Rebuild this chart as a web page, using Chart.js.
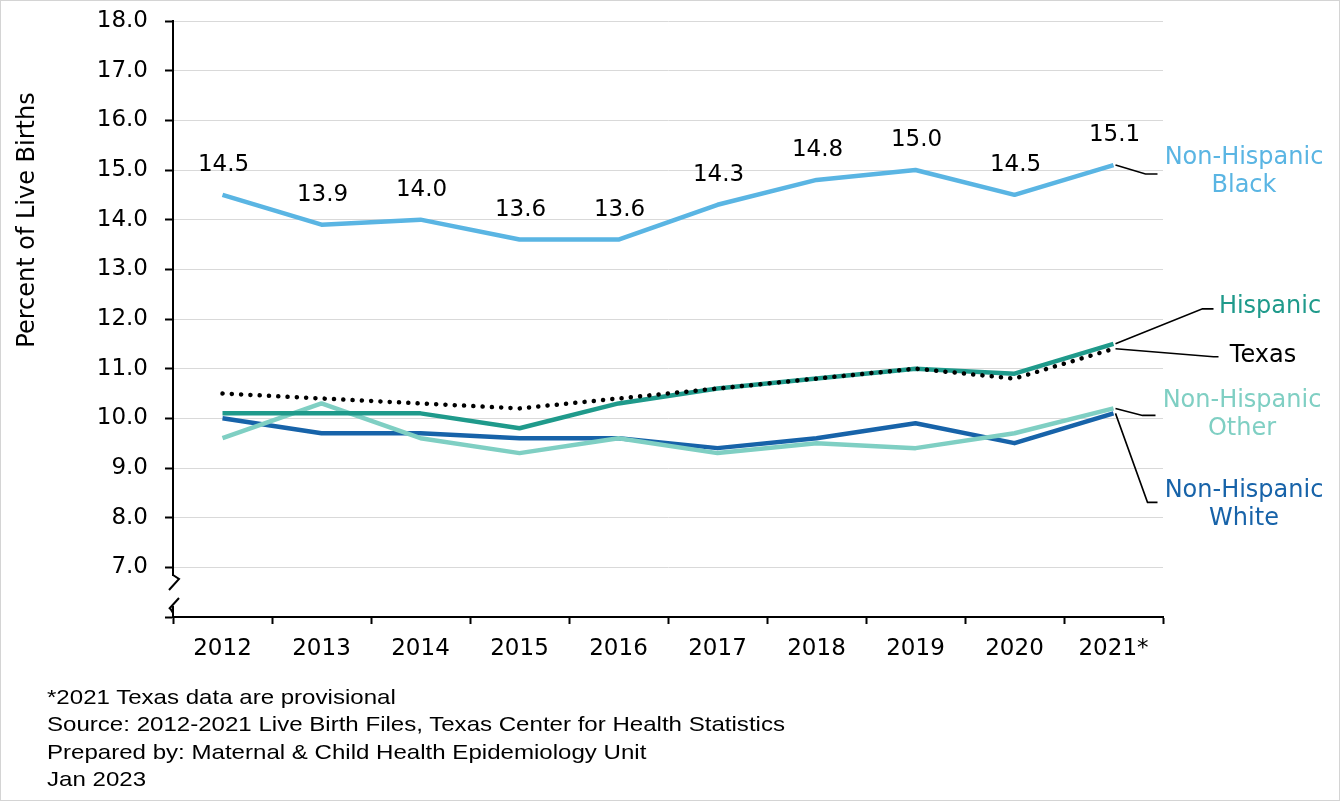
<!DOCTYPE html>
<html>
<head>
<meta charset="utf-8">
<title>Percent of Live Births by Race/Ethnicity, Texas 2012-2021</title>
<script src="https://cdn.jsdelivr.net/npm/chart.js@4/dist/chart.umd.min.js"></script>
<style>
    body { margin: 0; background: #fff; }
    #wrap { position: relative; width: 1340px; height: 801px; }
    #notes {
        position: absolute; left: 47px; top: 683px;
        font-family: "Liberation Sans", Arial, sans-serif; font-size: 21px;
        line-height: 27.3px; color: #000; white-space: nowrap;
        transform-origin: left top;
    }
</style>
</head>
<body>
<div id="wrap">
    <canvas id="myChart" width="1340" height="801"></canvas>
    <div id="notes">
        <div>*2021 Texas data are provisional</div>
        <div id="srcLine">Source: 2012-2021 Live Birth Files, Texas Center for Health Statistics</div>
        <div>Prepared by: Maternal &amp; Child Health Epidemiology Unit</div>
        <div>Jan 2023</div>
    </div>
</div>
<script>
const years = ["2012", "2013", "2014", "2015", "2016", "2017", "2018", "2019", "2020", "2021*"];
const texas = [10.5, 10.4, 10.3, 10.2, 10.4, 10.6, 10.8, 11.0, 10.8, 11.4];
const hispanic = [10.1, 10.1, 10.1, 9.8, 10.3, 10.6, 10.8, 11.0, 10.9, 11.5];
const nhOther = [9.6, 10.3, 9.6, 9.3, 9.6, 9.3, 9.5, 9.4, 9.7, 10.2];
const nhWhite = [10.0, 9.7, 9.7, 9.6, 9.6, 9.4, 9.6, 9.9, 9.5, 10.1];
const nhBlack = [14.5, 13.9, 14.0, 13.6, 13.6, 14.3, 14.8, 15.0, 14.5, 15.1];
const yTicks = [6, 7, 8, 9, 10, 11, 12, 13, 14, 15, 16, 17, 18];

const fam = '"DejaVu Sans", Verdana, sans-serif';
const numFont = "23px " + fam;
const nameFont = "24px " + fam;

// squeeze the footnotes like the original narrow font
const notes = document.getElementById("notes");
const srcW = document.getElementById("srcLine").getBoundingClientRect().width;
notes.style.transform = "scaleX(" + (738 / srcW) + ")";

// labels on the right, tied to the 2021 point of each series by a leader line
const seriesLabels = [
    { ds: 4, lines: ["Non-Hispanic", "Black"], color: "#5ab5e3", bend: [32, 9], end: 44, tx: 1244, ty: 158 },
    { ds: 1, lines: ["Hispanic"], color: "#1f9a8b", bend: [89, -35], end: 100, tx: 1270, ty: 307 },
    { ds: 0, lines: ["Texas"], color: "#000", bend: [100, 8], end: 105, tx: 1263, ty: 356 },
    { ds: 2, lines: ["Non-Hispanic", "Other"], color: "#7fcfc3", bend: [29, 7], end: 42, tx: 1242, ty: 401 },
    { ds: 3, lines: ["Non-Hispanic", "White"], color: "#1763a9", bend: [34, 89], end: 44, tx: 1244, ty: 491 },
];

const extras = {
    id: "extras",
    afterDraw(chart) {
        const ctx = chart.ctx;
        const x = chart.scales.x;
        const y = chart.scales.y;
        const area = chart.chartArea;
        ctx.save();

        // frame around the picture
        ctx.strokeStyle = "#d4d4d4";
        ctx.lineWidth = 1;
        ctx.strokeRect(0.5, 0.5, chart.width - 1, chart.height - 1);

        // axis break near the bottom of the y axis
        const ax = area.left;
        ctx.fillStyle = "#fff";
        ctx.fillRect(ax - 3, area.bottom - 41, 6, 30);
        ctx.strokeStyle = "#000";
        ctx.lineWidth = 2;
        ctx.beginPath();
        ctx.moveTo(ax, area.bottom - 42);
        ctx.lineTo(ax + 6, area.bottom - 38);
        ctx.lineTo(ax - 4, area.bottom - 27);
        ctx.moveTo(ax - 4, area.bottom - 8);
        ctx.lineTo(ax + 6, area.bottom - 19);
        ctx.moveTo(ax - 3, area.bottom - 9);
        ctx.lineTo(ax, area.bottom - 4);
        ctx.stroke();

        // y axis title
        ctx.fillStyle = "#000";
        ctx.font = "24px " + fam;
        ctx.textAlign = "center";
        ctx.textBaseline = "middle";
        ctx.translate(28, 220);
        ctx.rotate(-Math.PI / 2);
        ctx.fillText("Percent of Live Births", 0, 0);
        ctx.setTransform(1, 0, 0, 1, 0, 0);

        // values above the Non-Hispanic Black line
        ctx.font = numFont;
        nhBlack.forEach((v, i) => {
            ctx.fillText(v.toFixed(1), x.getPixelForValue(i) + 1, y.getPixelForValue(v) - 30);
        });

        // leader lines and series names
        const last = years.length - 1;
        seriesLabels.forEach((s) => {
            const vals = chart.data.datasets[s.ds].data;
            const px = x.getPixelForValue(last);
            const py = y.getPixelForValue(vals[last]);
            ctx.strokeStyle = "#000";
            ctx.lineWidth = 1.6;
            ctx.beginPath();
            ctx.moveTo(px + 2, py);
            ctx.lineTo(px + s.bend[0], py + s.bend[1]);
            ctx.lineTo(px + s.end, py + s.bend[1]);
            ctx.stroke();
            ctx.fillStyle = s.color;
            ctx.font = nameFont;
            s.lines.forEach((t, k) => {
                ctx.fillText(t, s.tx, s.ty + k * 28);
            });
        });
        ctx.restore();
    },
};

const lineStyle = (color) => ({
    borderColor: color,
    borderWidth: 4.5,
    pointRadius: 0,
    tension: 0,
    borderJoinStyle: "round",
});

const canvas = document.getElementById("myChart");
new Chart(canvas, {
    type: "line",
    data: {
        labels: years,
        datasets: [
            {
                label: "Texas",
                data: texas,
                borderColor: "#000",
                borderWidth: 4.5,
                borderDash: [0.1, 9.2],
                borderCapStyle: "round",
                pointRadius: 0,
            },
            { label: "Hispanic", data: hispanic, ...lineStyle("#1f9a8b") },
            { label: "Non-Hispanic Other", data: nhOther, ...lineStyle("#7fcfc3") },
            { label: "Non-Hispanic White", data: nhWhite, ...lineStyle("#1763a9") },
            { label: "Non-Hispanic Black", data: nhBlack, ...lineStyle("#5ab5e3") },
        ],
    },
    options: {
        responsive: false,
        animation: false,
        layout: { autoPadding: false, padding: { top: 21, right: 177, bottom: 124, left: 0 } },
        plugins: {
            legend: { display: false },
            tooltip: { enabled: false },
        },
        scales: {
            x: {
                offset: true,
                grid: {
                    offset: true,
                    drawOnChartArea: false,
                    tickLength: 7,
                    tickColor: "#000",
                    tickWidth: 2,
                },
                border: { color: "#000", width: 2 },
                ticks: {
                    color: "#000",
                    font: { family: fam, size: 23 },
                    padding: 11,
                    maxRotation: 0,
                },
                afterFit: (scale) => {
                    scale.height = 60;
                    scale.paddingLeft = 0;
                    scale.paddingRight = 0;
                },
            },
            y: {
                min: 6,
                max: 18,
                afterBuildTicks: (scale) => {
                    scale.ticks = yTicks.map((v) => ({ value: v }));
                },
                grid: {
                    color: "#d9d9d9",
                    lineWidth: 1,
                    tickLength: 8,
                    tickColor: "#000",
                    tickWidth: 2,
                },
                border: { color: "#000", width: 2 },
                ticks: {
                    color: "#000",
                    font: { family: fam, size: 23 },
                    padding: 17,
                    callback: (v) => (v === 6 ? "" : v.toFixed(1)),
                },
                afterFit: (scale) => {
                    scale.width = 173;
                    scale.paddingTop = 0;
                    scale.paddingBottom = 0;
                },
            },
        },
    },
    plugins: [extras],
});
</script>
</body>
</html>
